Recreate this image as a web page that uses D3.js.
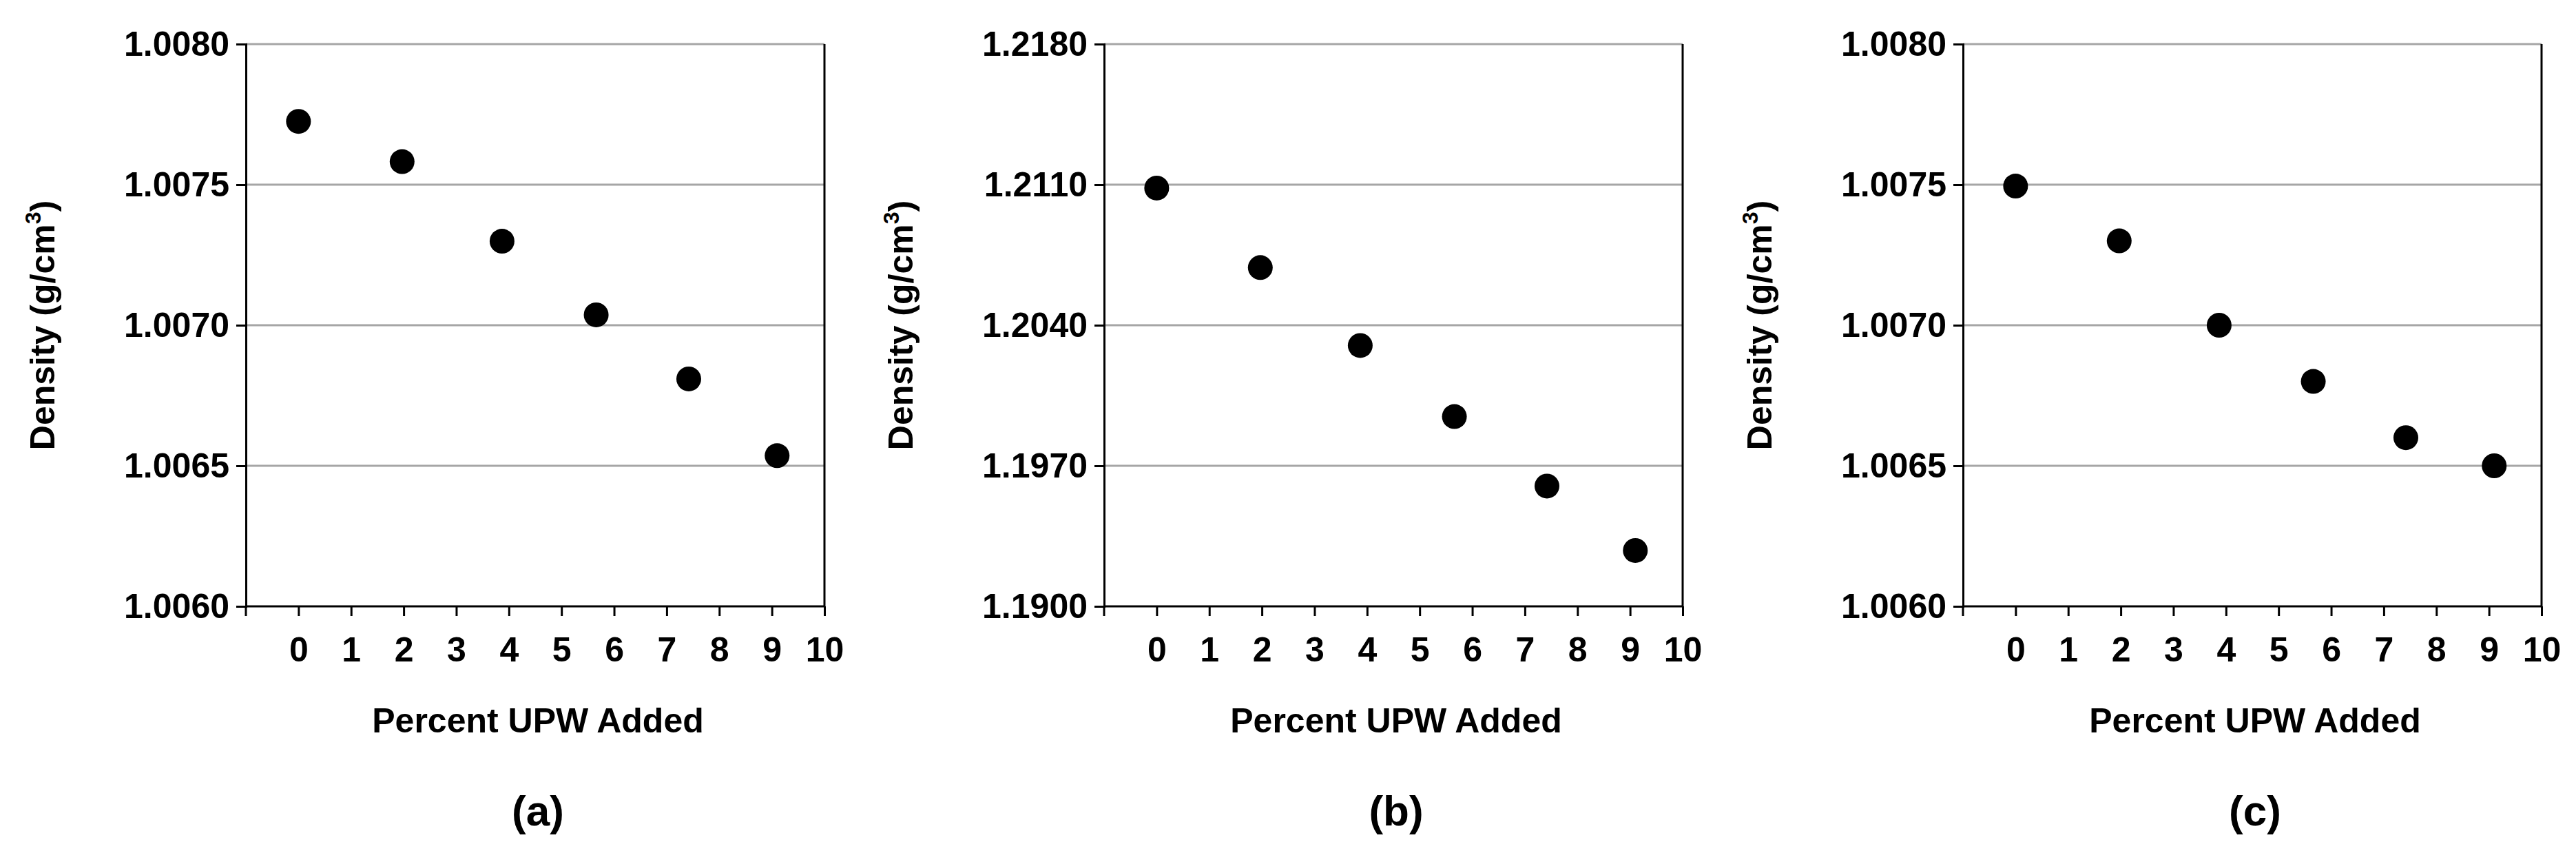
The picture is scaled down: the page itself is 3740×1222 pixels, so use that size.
<!DOCTYPE html>
<html><head><meta charset="utf-8">
<script src="https://cdn.jsdelivr.net/npm/d3@7"></script>
<style>body{margin:0;background:#fff}text{font-family:"Liberation Sans",Arial,sans-serif;font-weight:bold}</style>
</head><body><svg id="c" width="3740" height="1222"></svg>
<script>
const xPercent = [0, 1.97, 3.87, 5.66, 7.42, 9.1];
const densityA = [1.007725, 1.007582, 1.007299, 1.007037, 1.006809, 1.006536];
const densityB = [1.21083, 1.20687, 1.20299, 1.19945, 1.19599, 1.19278];
const densityC = [1.007495, 1.0073, 1.0070, 1.00680, 1.0066, 1.0065];
const yTicksA = [1.0060, 1.0065, 1.0070, 1.0075, 1.0080];
const yTicksB = [1.1900, 1.1970, 1.2040, 1.2110, 1.2180];
const xTicks = [0,1,2,3,4,5,6,7,8,9,10];
const panelLabels = ["(a)", "(b)", "(c)"];

const panels = [
  {left:357, vals:densityA, ticks:yTicksA, label:panelLabels[0]},
  {left:1603, vals:densityB, ticks:yTicksB, label:panelLabels[1]},
  {left:2850, vals:densityC, ticks:yTicksA, label:panelLabels[2]}
];
const W = 840, plotTop = 64, plotBottom = 880;
const svg = d3.select("#c");
panels.forEach(p => {
  const g = svg.append("g");
  const x = d3.scaleLinear().domain([-1,10]).range([p.left, p.left+W]);
  const y = d3.scaleLinear().domain([p.ticks[0], p.ticks[p.ticks.length-1]]).range([plotBottom, plotTop]);
  g.selectAll(".grid").data(p.ticks.slice(1)).join("line")
    .attr("x1", p.left).attr("x2", p.left+W)
    .attr("y1", d=>y(d)).attr("y2", d=>y(d))
    .attr("stroke","#a6a6a6").attr("stroke-width",3);
  g.append("line").attr("x1",p.left+W).attr("x2",p.left+W).attr("y1",plotTop).attr("y2",plotBottom)
    .attr("stroke","#000").attr("stroke-width",3);
  const ya = g.append("g").attr("transform",`translate(${p.left},0)`)
    .call(d3.axisLeft(y).tickValues(p.ticks).tickFormat(d3.format(".4f")).tickSize(14).tickPadding(10));
  ya.select(".domain").attr("stroke-width",3);
  ya.selectAll(".tick line").attr("stroke-width",3);
  ya.selectAll("text").attr("font-size",50).attr("fill","#000");
  const xa = g.append("g").attr("transform",`translate(0,${plotBottom})`)
    .call(d3.axisBottom(x).tickValues(xTicks).tickSize(14).tickPadding(30).tickSizeOuter(0));
  xa.select(".domain").attr("stroke-width",3).attr("d",`M${p.left},0H${p.left+W}`);
  xa.selectAll(".tick line").attr("stroke-width",3);
  xa.append("line").attr("x1",x(-1)).attr("x2",x(-1)).attr("y1",0).attr("y2",14).attr("stroke","#000").attr("stroke-width",3);
  xa.selectAll("text").attr("font-size",50).attr("fill","#000");
  g.selectAll("circle").data(p.vals).join("circle")
    .attr("cx",(d,i)=>x(xPercent[i])).attr("cy",d=>y(d)).attr("r",18).attr("fill","#000");
  g.append("text").attr("x",x(4.5)+4).attr("y",1063).attr("text-anchor","middle")
    .attr("font-size",50).text("Percent UPW Added");
  const yt = g.append("text").attr("transform",`translate(${p.left-278},${(plotTop+plotBottom)/2}) rotate(-90)`)
    .attr("text-anchor","middle").attr("font-size",50);
  yt.append("tspan").text("Density (g/cm");
  yt.append("tspan").attr("font-size",32).attr("dy",-20).text("3");
  yt.append("tspan").attr("dy",20).text(")");
  g.append("text").attr("x",x(4.5)+4).attr("y",1198).attr("text-anchor","middle")
    .attr("font-size",62).text(p.label);
});
</script></body></html>
